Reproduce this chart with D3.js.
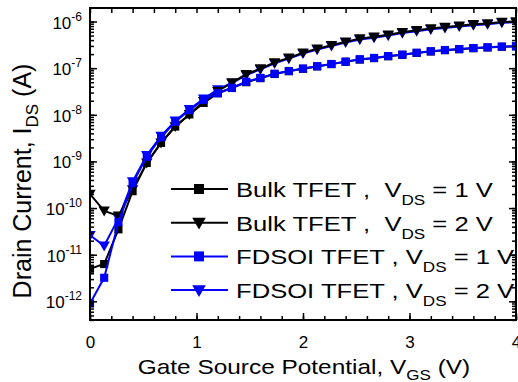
<!DOCTYPE html>
<html>
<head>
<meta charset="utf-8">
<script src="https://cdn.jsdelivr.net/npm/d3@7"></script>
<style>
  body { margin: 0; background: #fff; }
  svg text { font-family: Arial, "Liberation Sans", sans-serif; fill: #000; }
</style>
</head>
<body>
<div id="chart"></div>
<script>
// gate-source voltage (V)
const vgs = [0, 0.133, 0.267, 0.4, 0.533, 0.667, 0.8, 0.933, 1.067, 1.2, 1.333, 1.467, 1.6,
    1.733, 1.867, 2, 2.133, 2.267, 2.4, 2.533, 2.667, 2.8, 2.933, 3.067, 3.2, 3.333, 3.467,
    3.6, 3.733, 3.867, 4];

// drain current (A)
const bulkV1 = [5e-12, 6.3e-12, 3.5e-11, 2.3e-10, 9.3e-10, 2.5e-9, 5.6e-9, 1.02e-8, 1.8e-8,
    2.9e-8, 3.75e-8, 5.0e-8, 6.1e-8, 7.5e-8, 8.6e-8, 9.7e-8, 1.09e-7, 1.22e-7, 1.37e-7,
    1.53e-7, 1.64e-7, 1.8e-7, 1.93e-7, 2.12e-7, 2.28e-7, 2.43e-7, 2.55e-7, 2.68e-7, 2.78e-7,
    2.88e-7, 2.93e-7];
const bulkV2 = [2e-10, 8.7e-11, 6.8e-11, 2.5e-10, 9.3e-10, 2.5e-9, 5.6e-9, 1.02e-8, 1.95e-8,
    3.2e-8, 4.9e-8, 7.4e-8, 9.8e-8, 1.32e-7, 1.66e-7, 2.14e-7, 2.6e-7, 3.1e-7, 3.7e-7, 4.3e-7,
    4.7e-7, 5.2e-7, 5.9e-7, 6.5e-7, 7.1e-7, 7.6e-7, 8.1e-7, 8.7e-7, 9.1e-7, 9.8e-7, 1.0e-6];
const fdsoiV1 = [9e-13, 3.2e-12, 5e-11, 3.4e-10, 1.26e-9, 3.3e-9, 7.1e-9, 1.26e-8, 2.1e-8,
    2.9e-8, 3.8e-8, 5.1e-8, 6.2e-8, 7.6e-8, 8.7e-8, 9.8e-8, 1.1e-7, 1.23e-7, 1.38e-7, 1.55e-7,
    1.66e-7, 1.82e-7, 1.95e-7, 2.14e-7, 2.3e-7, 2.45e-7, 2.57e-7, 2.7e-7, 2.8e-7, 2.9e-7, 2.95e-7];
const fdsoiV2 = [2.6e-11, 1.55e-11, 6e-11, 3.7e-10, 1.35e-9, 3.5e-9, 7.4e-9, 1.32e-8, 2.2e-8,
    3.5e-8, 4.8e-8, 7.1e-8, 9.4e-8, 1.27e-7, 1.6e-7, 2.06e-7, 2.5e-7, 2.98e-7, 3.55e-7, 4.1e-7,
    4.5e-7, 5.0e-7, 5.65e-7, 6.2e-7, 6.8e-7, 7.3e-7, 7.8e-7, 8.35e-7, 8.75e-7, 9.4e-7, 9.6e-7];

const xTicks = [0, 1, 2, 3, 4];
const yTicks = [1e-12, 1e-11, 1e-10, 1e-9, 1e-8, 1e-7, 1e-6];

// draw order: black squares under blue squares, blue triangles under black triangles
const series = [
    { name: 'Bulk', vds: '1', values: bulkV1, color: '#000', shape: 'square' },
    { name: 'FDSOI', vds: '2', values: fdsoiV2, color: '#0000ff', shape: 'tri' },
    { name: 'Bulk', vds: '2', values: bulkV2, color: '#000', shape: 'tri' },
    { name: 'FDSOI', vds: '1', values: fdsoiV1, color: '#0000ff', shape: 'square' },
];

const width = 518;
const height = 382;
const mLeft = 90, mRight = 516, mTop = 8, mBottom = 320;
// the source figure's lettering is wider than plain Arial
const stretch = 1.22;

const svg = d3.select('#chart').append('svg')
    .attr('width', width)
    .attr('height', height);

const x = d3.scaleLinear().domain([0, 4]).range([mLeft, mRight]);
const y = d3.scaleLog().domain([Math.pow(10, -12.4), Math.pow(10, -5.71)]).range([mBottom, mTop]);

svg.append('defs').append('clipPath').attr('id', 'plot-clip')
    .append('rect')
    .attr('x', mLeft).attr('y', mTop)
    .attr('width', mRight - mLeft).attr('height', mBottom - mTop);

function symbolPath(shape, big) {
    if (shape === 'square') {
        return d3.symbol().type(d3.symbolSquare).size(big ? 100 : 66)();
    }
    return d3.symbol().type(d3.symbolTriangle).size(big ? 80 : 56)();
}

function drawMarker(g, shape, cx, cy, color, big) {
    g.append('path')
        .attr('d', symbolPath(shape, big))
        .attr('transform', shape === 'tri'
            ? `translate(${cx},${cy - 1}) rotate(180)`
            : `translate(${cx},${cy})`)
        .attr('fill', color);
}

// curves
const plot = svg.append('g').attr('clip-path', 'url(#plot-clip)');
const line = d3.line().x((d) => x(d[0])).y((d) => y(d[1]));
series.forEach((s) => {
    const pts = vgs.map((v, i) => [v, s.values[i]]);
    plot.append('path')
        .datum(pts)
        .attr('d', line)
        .attr('fill', 'none')
        .attr('stroke', s.color)
        .attr('stroke-width', 2);
    pts.forEach((p) => drawMarker(plot, s.shape, x(p[0]), y(p[1]), s.color, false));
});

// axes (ticks point inward on all four sides)
const minorX = d3.range(0, 4.001, 0.2);
const minorY = [];
for (let e = -13; e <= -6; e++) {
    for (let m = 1; m < 10; m++) {
        const v = m * Math.pow(10, e);
        if (v >= y.domain()[0] && v <= y.domain()[1]) minorY.push(v);
    }
}

svg.append('g')
    .attr('transform', `translate(0,${mBottom})`)
    .call(d3.axisBottom(x).tickValues(minorX).tickSize(-4).tickFormat(''))
    .call((g) => g.select('.domain').remove());
svg.append('g')
    .attr('transform', `translate(0,${mBottom})`)
    .call(d3.axisBottom(x).tickValues(xTicks).tickSize(-7).tickPadding(16).tickFormat(d3.format('d')))
    .call((g) => g.select('.domain').remove())
    .call((g) => g.selectAll('.tick text')
        .attr('font-size', 17)
        .attr('font-family', 'Arial, "Liberation Sans", sans-serif'));
svg.append('g')
    .attr('transform', `translate(0,${mTop})`)
    .call(d3.axisTop(x).tickValues(minorX).tickSize(-5).tickFormat(''))
    .call((g) => g.select('.domain').remove());

svg.append('g')
    .attr('transform', `translate(${mLeft},0)`)
    .call(d3.axisLeft(y).tickValues(minorY).tickSize(-4).tickFormat(''))
    .call((g) => g.select('.domain').remove());
svg.append('g')
    .attr('transform', `translate(${mLeft},0)`)
    .call(d3.axisLeft(y).tickValues(yTicks).tickSize(-7).tickFormat(''))
    .call((g) => g.select('.domain').remove());
svg.append('g')
    .attr('transform', `translate(${mRight},0)`)
    .call(d3.axisRight(y).tickValues(minorY).tickSize(-4).tickFormat(''))
    .call((g) => g.select('.domain').remove());
svg.append('g')
    .attr('transform', `translate(${mRight},0)`)
    .call(d3.axisRight(y).tickValues(yTicks).tickSize(-7).tickFormat(''))
    .call((g) => g.select('.domain').remove());
svg.selectAll('.tick line').attr('stroke', '#000').attr('stroke-width', 1.5);

// y tick labels as 10 with superscript exponent
yTicks.forEach((v) => {
    const t = svg.append('text')
        .attr('x', mLeft - 8)
        .attr('y', y(v) + 7)
        .attr('text-anchor', 'end')
        .attr('font-size', 17);
    t.append('tspan').text('10');
    t.append('tspan').attr('dy', -8).attr('font-size', 12).text(Math.round(Math.log10(v)));
});

// frame
svg.append('rect')
    .attr('x', mLeft).attr('y', mTop)
    .attr('width', mRight - mLeft).attr('height', mBottom - mTop)
    .attr('fill', 'none')
    .attr('stroke', '#000')
    .attr('stroke-width', 2);

// axis titles
const xt = svg.append('g')
    .attr('transform', `translate(304,374) scale(${stretch},1)`)
    .append('text')
    .attr('text-anchor', 'middle')
    .attr('font-size', 20);
xt.append('tspan').text('Gate Source Potential, V');
xt.append('tspan').attr('dy', 6).attr('font-size', 14).text('GS');
xt.append('tspan').attr('dy', -6).text(' (V)');

const yt = svg.append('text')
    .attr('transform', 'translate(31,181) rotate(-90)')
    .attr('text-anchor', 'middle')
    .attr('font-size', 25);
yt.append('tspan').text('Drain Current, I');
yt.append('tspan').attr('dy', 7).attr('font-size', 17).text('DS');
yt.append('tspan').attr('dy', -7).text(' (A)');

// legend
const legendRows = [
    { label: 'Bulk TFET ,\u00a0\u00a0V', vds: '1', color: '#000', shape: 'square' },
    { label: 'Bulk TFET ,\u00a0\u00a0V', vds: '2', color: '#000', shape: 'tri' },
    { label: 'FDSOI TFET , V', vds: '1', color: '#0000ff', shape: 'square' },
    { label: 'FDSOI TFET , V', vds: '2', color: '#0000ff', shape: 'tri' },
];
const legend = svg.append('g');
legendRows.forEach((r, i) => {
    const cy = 189 + i * 33.7;
    legend.append('line')
        .attr('x1', 171).attr('x2', 228)
        .attr('y1', cy).attr('y2', cy)
        .attr('stroke', r.color)
        .attr('stroke-width', 2);
    drawMarker(legend, r.shape, 199, cy, r.color, true);
    const t = legend.append('g')
        .attr('transform', `translate(236,${cy + 8}) scale(${stretch},1)`)
        .append('text')
        .attr('font-size', 21);
    t.append('tspan').text(r.label);
    t.append('tspan').attr('dy', 8).attr('font-size', 14).text('DS');
    t.append('tspan').attr('dy', -8).text(` = ${r.vds} V`);
});
</script>
</body>
</html>
